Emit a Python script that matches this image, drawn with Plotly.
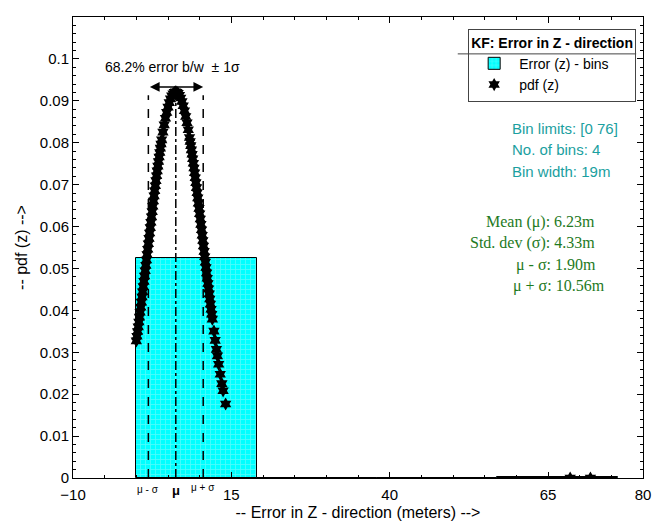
import plotly.graph_objects as go

# ---- data ----
bin_edges = [0, 19, 38, 57, 76]
bin_heights = [0.0525, 0.0, 0.0, 0.00013]

pdf_x = [0.0, 0.1, 0.2, 0.3, 0.4, 0.5, 0.6, 0.7, 0.8, 0.9, 1.0, 1.1, 1.2, 1.3, 1.4, 1.5,
         1.6, 1.7, 1.8, 1.9, 2.0, 2.1, 2.2, 2.3, 2.4, 2.5, 2.6, 2.7, 2.8, 2.9,
         3.0, 3.1, 3.2, 3.3, 3.4, 3.5, 3.6, 3.7, 3.8, 3.9, 4.0, 4.2, 4.4, 4.6, 4.8,
         5.0, 5.2, 5.4, 5.6, 5.8, 6.0, 6.2, 6.4, 6.6, 6.8, 7.0, 7.2, 7.4, 7.6, 7.8,
         8.0, 8.2, 8.4, 8.5, 8.6, 8.7, 8.8, 8.9, 9.0, 9.1, 9.2, 9.3, 9.4, 9.5, 9.6,
         9.7, 9.8, 9.9, 10.0, 10.1, 10.2, 10.3, 10.4, 10.5, 10.6, 10.7, 10.8, 10.9,
         11.0, 11.1, 11.2, 11.3, 11.4, 11.5, 11.6, 11.7, 11.8, 11.9, 12.0,
         12.25, 12.45, 12.65, 12.8, 13.0, 13.25, 13.5, 13.7, 14.1,
         68.5, 71.7]
pdf_y = [0.03273, 0.03382, 0.03494, 0.03607, 0.03722, 0.03838, 0.03956, 0.04076,
         0.04197, 0.04319, 0.04443, 0.04567, 0.04692, 0.04819, 0.04946, 0.05074,
         0.05202, 0.05330, 0.05459, 0.05588, 0.05717, 0.05846, 0.05975, 0.06103,
         0.06231, 0.06357, 0.06484, 0.06609, 0.06732, 0.06855, 0.06975, 0.07095,
         0.07213, 0.07328, 0.07442, 0.07552, 0.07661, 0.07768, 0.07871, 0.07971,
         0.08069, 0.08254, 0.08427, 0.08583, 0.08724, 0.08850, 0.08956, 0.09046,
         0.09117, 0.09168, 0.09201, 0.09213, 0.09206, 0.09179, 0.09133, 0.09069,
         0.08985, 0.08884, 0.08764, 0.08627, 0.08475, 0.08308, 0.08126, 0.08030,
         0.07932, 0.07830, 0.07726, 0.07619, 0.07509, 0.07397, 0.07282, 0.07166,
         0.07047, 0.06928, 0.06806, 0.06683, 0.06558, 0.06433, 0.06307, 0.06180,
         0.06052, 0.05923, 0.05794, 0.05666, 0.05536, 0.05407, 0.05278, 0.05150,
         0.05022, 0.04894, 0.04768, 0.04642, 0.04517, 0.04393, 0.04270, 0.04149,
         0.04028, 0.03909, 0.03791, 0.03505, 0.03284, 0.03070, 0.02914, 0.02713,
         0.02476, 0.02251, 0.02081, 0.01766, 0.0, 0.0]

mean_z = 6.23
std_z = 4.33
peak_pdf = 0.0921

x_tickvals = [-10, 15, 40, 65, 80]
y_tickvals = [0, 0.01, 0.02, 0.03, 0.04, 0.05, 0.06, 0.07, 0.08, 0.09, 0.1]
y_ticktext = ["0", "0.01", "0.02", "0.03", "0.04", "0.05", "0.06", "0.07", "0.08", "0.09", "0.1"]

stats_lines = ["Mean (μ): 6.23m", "Std. dev (σ): 4.33m", "μ - σ: 1.90m", "μ + σ: 10.56m"]
stats_right = [0.919, 0.919, 0.921, 0.937]
bin_lines = ["Bin limits: [0 76]", "No. of bins: 4", "Bin width: 19m"]

SANS = "Liberation Sans, Arial"
SERIF = "Liberation Serif, Times New Roman"

# ---- figure ----
centers = [(bin_edges[i] + bin_edges[i + 1]) / 2 for i in range(len(bin_heights))]
widths = [bin_edges[i + 1] - bin_edges[i] for i in range(len(bin_heights))]

fig = go.Figure()
fig.add_trace(go.Bar(
    x=centers, y=bin_heights, width=widths, name="Error (z) - bins",
    marker=dict(color="#00ffff", line=dict(color="black", width=1),
                pattern=dict(shape="+", fgcolor="#9ff7f7", bgcolor="#00ffff", size=5, solidity=0.3)),
))
fig.add_trace(go.Scatter(
    x=pdf_x, y=pdf_y, mode="markers", name="pdf (z)",
    marker=dict(symbol="hexagram", size=10, color="black", line=dict(width=0)),
))

lo = mean_z - std_z
hi = mean_z + std_z
for xv in (lo, hi):
    fig.add_shape(type="line", x0=xv, x1=xv, y0=0, y1=peak_pdf - 0.0008, xref="x", yref="y",
                  line=dict(color="black", width=1.5, dash="dash"))
fig.add_shape(type="line", x0=mean_z, x1=mean_z, y0=0, y1=peak_pdf + 0.0005, xref="x", yref="y",
              line=dict(color="black", width=1.5, dash="dashdot"))

# arrow
fig.add_annotation(x=hi, y=peak_pdf + 0.0012, ax=lo, ay=peak_pdf + 0.0012, xref="x", yref="y",
                   axref="x", ayref="y", text="", showarrow=True, arrowhead=2, arrowside="end+start",
                   arrowsize=1.3, arrowwidth=1.5, arrowcolor="black")
fig.add_annotation(x=mean_z - 0.5, y=0.0981, xref="x", yref="y", text="68.2% error b/w  ± 1σ",
                   showarrow=False, yanchor="middle", font=dict(family=SANS, size=14, color="black"))

# mu labels under axis
fig.add_annotation(x=lo, y=-0.026, xref="x", yref="paper", text="μ - σ", showarrow=False,
                   yanchor="middle", font=dict(family=SANS, size=10, color="black"))
fig.add_annotation(x=mean_z, y=-0.028, xref="x", yref="paper", text="<b>μ</b>", showarrow=False,
                   yanchor="middle", font=dict(family=SANS, size=13, color="black"))
fig.add_annotation(x=hi, y=-0.021, xref="x", yref="paper", text="μ + σ", showarrow=False,
                   yanchor="middle", font=dict(family=SANS, size=10, color="black"))

# bin info
for i, t in enumerate(bin_lines):
    fig.add_annotation(x=0.767, y=0.759 - i * 0.0475, xref="paper", yref="paper", text=t,
                       showarrow=False, xanchor="left", yanchor="middle",
                       font=dict(family=SANS, size=15, color="#1aa0a0"))
# stats
for i, t in enumerate(stats_lines):
    fig.add_annotation(x=stats_right[i], y=0.555 - i * 0.046, xref="paper", yref="paper", text=t,
                       showarrow=False, xanchor="right", yanchor="middle",
                       font=dict(family=SERIF, size=16, color="#1e7a1e"))

# legend separator
fig.add_shape(type="line", xref="paper", yref="paper", x0=0.675, x1=0.988, y0=0.920, y1=0.920,
              line=dict(color="#444", width=1), layer="above")

axis_common = dict(showline=True, linecolor="black", linewidth=1, mirror="ticks", ticks="inside",
                   ticklen=6, tickcolor="black", showgrid=False, zeroline=False, automargin=False,
                   tickfont=dict(family=SANS, size=15, color="black"))
fig.update_xaxes(range=[-10, 80], tickvals=x_tickvals,
                 minor=dict(ticks="inside", ticklen=3, dtick=5, tick0=0, tickcolor="black"),
                 title=dict(text="-- Error in Z - direction (meters) -->", standoff=4,
                            font=dict(family=SANS, size=16, color="black")),
                 ticklabelstandoff=3, **axis_common)
fig.update_yaxes(range=[0, 0.11], tickvals=y_tickvals, ticktext=y_ticktext,
                 minor=dict(ticks="inside", ticklen=3, dtick=0.002, tick0=0, tickcolor="black"),
                 title=dict(text="-- pdf (z) -->", standoff=8,
                            font=dict(family=SANS, size=16, color="black")),
                 **axis_common)

fig.update_layout(
    width=661, height=531, margin=dict(l=73, r=18, t=17, b=53),
    plot_bgcolor="white", paper_bgcolor="white", bargap=0,
    legend=dict(x=0.988, y=0.975, xanchor="right", yanchor="top", bordercolor="#444", borderwidth=1,
                bgcolor="rgba(255,255,255,0)", font=dict(family=SANS, size=14, color="black"),
                title=dict(text="<b>KF: Error in Z - direction</b>",
                           font=dict(family=SANS, size=14, color="black")),
                tracegroupgap=2, itemwidth=40),
    showlegend=True,
)

fig.write_html("out.html")
